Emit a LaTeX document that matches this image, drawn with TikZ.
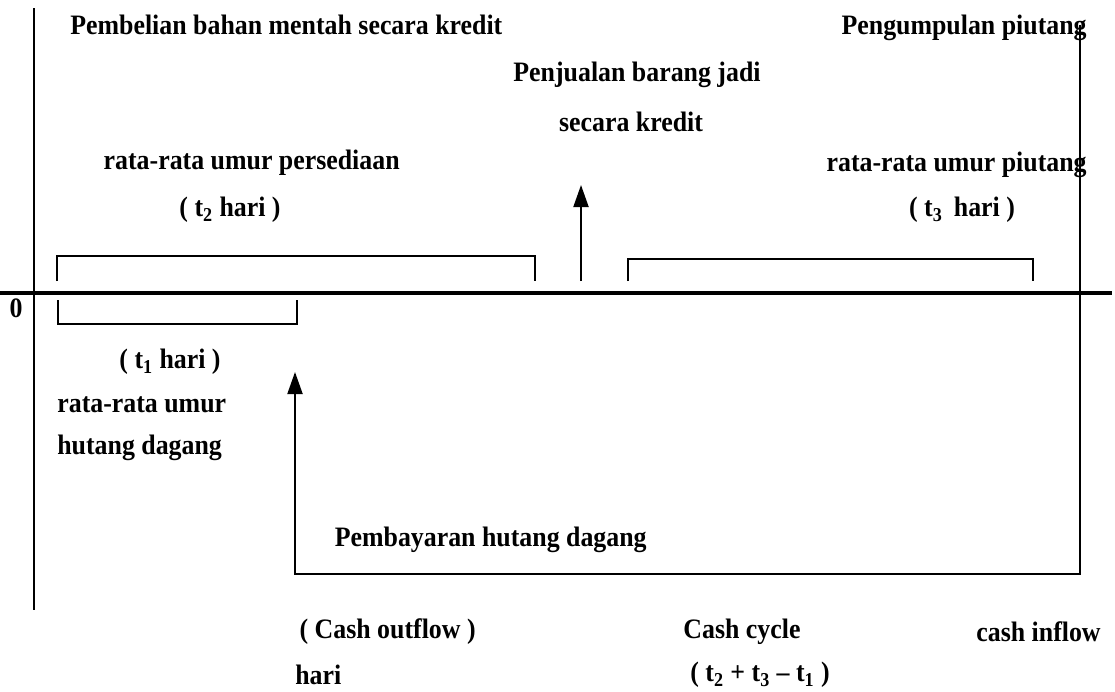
\documentclass[tikz,border=0pt]{standalone}
\usepackage{fontspec}
\setmainfont{Liberation Serif}[FakeStretch=0.92]
\usetikzlibrary{arrows.meta}

\begin{document}
\begin{tikzpicture}[x=0.02cm, y=-0.02cm,
    lbl/.style={inner sep=0pt, font=\bfseries\fontsize{16}{19}\selectfont},
    bracket/.style={line width=1.1pt},
    flow/.style={line width=1.1pt, -{Triangle[length=0.44cm, width=0.3cm]}}]
    \useasboundingbox (0,0) rectangle (1115,691);
    \pgfmathsetmacro{\axisY}{293}  % height of the time line
    % time axis and start line
    \coordinate (ytop) at (34,8);
    \coordinate (ybot) at (34,610);
    \draw[line width=1.2pt] (ytop) -- (ybot);
    \coordinate (xleft) at (0,\axisY);
    \coordinate (xright) at (1112,\axisY);
    \draw[line width=1.8pt] (xleft) -- (xright);
    \node[lbl] (zero) at (16,308) {0};
    % events above the axis
    \node[lbl, anchor=west] (buy) at (70,25) {Pembelian bahan mentah secara kredit};
    \node[lbl, anchor=east] (collect) at (1087,28) {Pengumpulan piutang};
    \node[lbl] (sell) at (637,75) {Penjualan barang jadi};
    \node[lbl] (sellb) at (631,122) {secara kredit};
    \node[lbl, anchor=east] (invage) at (400,163) {rata-rata umur persediaan};
    \node[lbl] (tinv) at (230,210) {( t\textsubscript{2} hari )};
    \node[lbl, anchor=east] (recage) at (1087,165) {rata-rata umur piutang};
    \node[lbl] (trec) at (962,210) {( t\textsubscript{3}\, hari )};
    % brackets
    \draw[bracket] (57,281) |- (535,256) -- (535,281);
    \draw[bracket] (628,281) |- (1033,259) -- (1033,281);
    \draw[bracket] (58,300) |- (297,324) -- (297,300);
    \coordinate (sellfoot) at (581,281);
    \coordinate (selltip) at (581,185);
    \draw[flow] (sellfoot) -- (selltip);
    % below the axis
    \node[lbl] (tpay) at (170,362) {( t\textsubscript{1} hari )};
    \node[lbl, anchor=west] (payage) at (57,405) {rata-rata umur};
    \node[lbl, anchor=west] (payageb) at (57,448) {hutang dagang};
    \node[lbl, anchor=east] (pay) at (647,540) {Pembayaran hutang dagang};
    % cash flowing back
    \coordinate (colltop) at (1080,25);
    \coordinate (collbot) at (1080,574);
    \coordinate (paybot) at (295,574);
    \coordinate (paytip) at (295,372);
    \draw[flow] (colltop) -- (collbot) -- (paybot) -- (paytip);
    % footer
    \node[lbl, anchor=east] (outflow) at (476,632) {( Cash outflow )};
    \node[lbl, anchor=west] (hari) at (295,675) {hari};
    \node[lbl] (cycle) at (742,632) {Cash cycle};
    \node[lbl] (cyclelen) at (760,675) {( t\textsubscript{2} + t\textsubscript{3} -- t\textsubscript{1} )};
    \node[lbl, anchor=west] (inflow) at (976,632) {cash inflow};
\end{tikzpicture}
\end{document}
